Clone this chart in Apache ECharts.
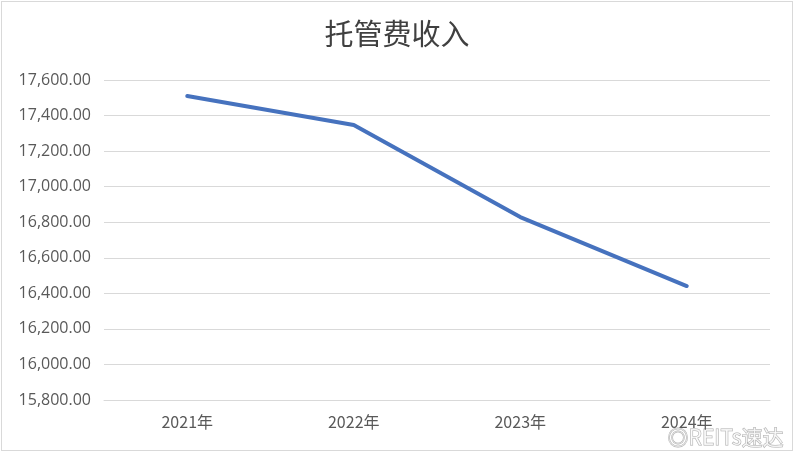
<!DOCTYPE html>
<html>
<head>
<meta charset="utf-8">
<script src="https://cdn.jsdelivr.net/npm/echarts@6/dist/echarts.min.js"></script>
<style>
html,body{margin:0;padding:0;background:#fff;}
#frame{position:absolute;left:1px;top:1px;width:790px;height:448px;border:1px solid #d9d9d9;}
#c{position:absolute;left:0;top:0;width:794px;height:452px;}
</style>
</head>
<body>
<div id="frame"></div>
<div id="c"></div>
<script>
const categories = ['2021年', '2022年', '2023年', '2024年'];
const fees = [17510, 17347, 16829, 16441];
const yTicks = [15800, 17600, 200];

const chart = echarts.init(document.getElementById('c'));
chart.setOption({
  backgroundColor: 'transparent',
  animation: false,
  title: {
    text: '托管费收入',
    left: 'center',
    top: 14,
    textStyle: {fontFamily: '"Noto Sans CJK SC", serif', fontSize: 29, fontWeight: 'normal', color: '#404040'}
  },
  grid: {left: 104, right: 24, top: 80, bottom: 52, containLabel: false},
  xAxis: {
    type: 'category',
    data: categories,
    boundaryGap: true,
    axisLine: {show: true, lineStyle: {color: '#d9d9d9', width: 1}},
    axisTick: {show: false},
    axisLabel: {fontFamily: '"Noto Sans CJK SC", sans-serif', fontSize: 16, color: '#595959', margin: 14}
  },
  yAxis: {
    type: 'value',
    min: yTicks[0],
    max: yTicks[1],
    interval: yTicks[2],
    axisLine: {show: false},
    axisTick: {show: false},
    splitLine: {lineStyle: {color: '#d9d9d9', width: 1}},
    axisLabel: {
      fontFamily: '"Open Sans", "Noto Sans", sans-serif', fontSize: 16, color: '#595959', margin: 13,
      formatter: v => v.toLocaleString('en-US', {minimumFractionDigits: 2, maximumFractionDigits: 2})
    }
  },
  series: [{
    type: 'line',
    data: fees,
    symbol: 'none',
    lineStyle: {color: '#4672BE', width: 4, cap: 'round', join: 'round'}
  }],
  graphic: [{
    type: 'text',
    right: 10,
    bottom: 4,
    style: {
      text: '◎REITs速达',
      fontFamily: '"Noto Sans CJK SC", sans-serif',
      fontSize: 21,
      fill: 'rgba(255,255,255,0.75)',
      stroke: 'rgba(150,150,150,0.8)',
      lineWidth: 1
    }
  }]
});
</script>
</body>
</html>
